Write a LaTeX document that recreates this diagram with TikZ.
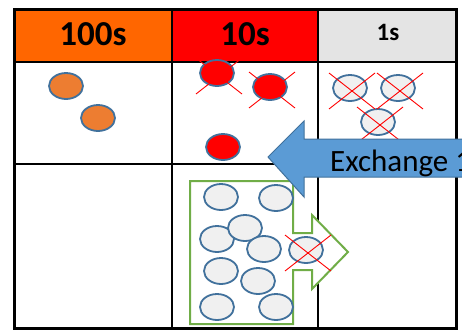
\documentclass[tikz,border=0pt]{standalone}
\usepackage{fontspec}
\setmainfont{Carlito}
\usetikzlibrary{shapes.geometric}
\definecolor{hdrorange}{HTML}{FF6600}
\definecolor{hdrred}{HTML}{FF0000}
\definecolor{hdrgray}{HTML}{E4E4E4}
\definecolor{coinorange}{HTML}{ED7D31}
\definecolor{coinred}{HTML}{FF0000}
\definecolor{coingray}{HTML}{F0F0F0}
\definecolor{coinedge}{HTML}{41719C}
\definecolor{arrowblue}{HTML}{5B9BD5}
\definecolor{arrowgreen}{HTML}{70AD47}
\tikzset{
  coin/.style={ellipse, draw=coinedge, line width=1.8pt, minimum width=34pt,
    minimum height=26pt, inner sep=0pt},
  coinO/.style={coin, fill=coinorange},
  coinR/.style={coin, fill=coinred},
  coinG/.style={coin, fill=coingray},
  xcross/.style={draw=red, line width=0.9pt},
  grid/.style={line width=2pt, black},
  hdrtext/.style={inner sep=0pt, anchor=base, font=\bfseries},
}
\begin{document}
\begin{tikzpicture}[x=1pt,y=-1pt]
\useasboundingbox (0,0) rectangle (462,332);
\clip (0,0) rectangle (462,332);
\fill[white] (0,0) rectangle (462,332);

% header cells
\fill[hdrorange] (14,9) rectangle (172,62);
\fill[hdrred] (172,9) rectangle (318,62);
\fill[hdrgray] (318,9) rectangle (456,62);
\node[hdrtext, font=\bfseries\fontsize{35}{35}\selectfont] (h100) at (93,45) {100s};
\node[hdrtext, font=\bfseries\fontsize{35}{35}\selectfont] (h10) at (245,45) {10s};
\node[hdrtext, font=\bfseries\fontsize{25}{25}\selectfont] (h1) at (388,40) {1s};

% table rules
\draw[grid] (172,9) -- (172,328);
\draw[grid] (318,9) -- (318,328);
\draw[grid] (14,62) -- (456,62);
\draw[grid] (14,164) -- (456,164);
\draw[line width=3pt] (14,9) rectangle (456,328);

% hundreds
\node[coinO] (o1) at (66,86) {};
\node[coinO] (o2) at (98,118) {};

% tens
\node[coinR] (r1) at (217,73) {};
\node[coinR] (r2) at (270,87) {};
\node[coinR] (r3) at (223,147) {};

% ones
\node[coinG] (s1) at (350,88) {};
\node[coinG] (s2) at (398,88) {};
\node[coinG] (s3) at (378,122) {};

% carry arrow holding ten ones
\draw[arrowgreen, line width=2pt, fill=white, line join=miter]
  (190,181) -- (293,181) -- (293,233) -- (312,233) -- (312,215) -- (348,252)
  -- (312,289) -- (312,270) -- (293,270) -- (293,324) -- (190,324) -- cycle;
\node[coinG] (g1) at (221,197) {};
\node[coinG] (g2) at (276,198) {};
\node[coinG] (g3) at (217,239) {};
\node[coinG] (g4) at (245,228) {};
\node[coinG] (g5) at (264,249) {};
\node[coinG] (g6) at (306,250) {};
\node[coinG] (g7) at (221,271) {};
\node[coinG] (g8) at (258,281) {};
\node[coinG] (g9) at (217,307) {};
\node[coinG] (g10) at (276,307) {};

% crossed-out coins
\foreach \n in {r1,r2,s1,s2,s3,g6}
  \draw[xcross] ([shift={(-21,-15)}]\n.center) -- ([shift={(25,21)}]\n.center)
                ([shift={(-21,21)}]\n.center) -- ([shift={(25,-15)}]\n.center);

% exchange arrow
\draw[coinedge, line width=1pt, fill=arrowblue, line join=miter]
  (268,157) -- (304,121) -- (304,139) -- (480,139) -- (480,177)
  -- (304,177) -- (304,197) -- cycle;
\node[inner sep=0pt, anchor=base west, font=\fontsize{31}{31}\selectfont]
  (ex) at (330,171) {Exchange 1};
\end{tikzpicture}
\end{document}
